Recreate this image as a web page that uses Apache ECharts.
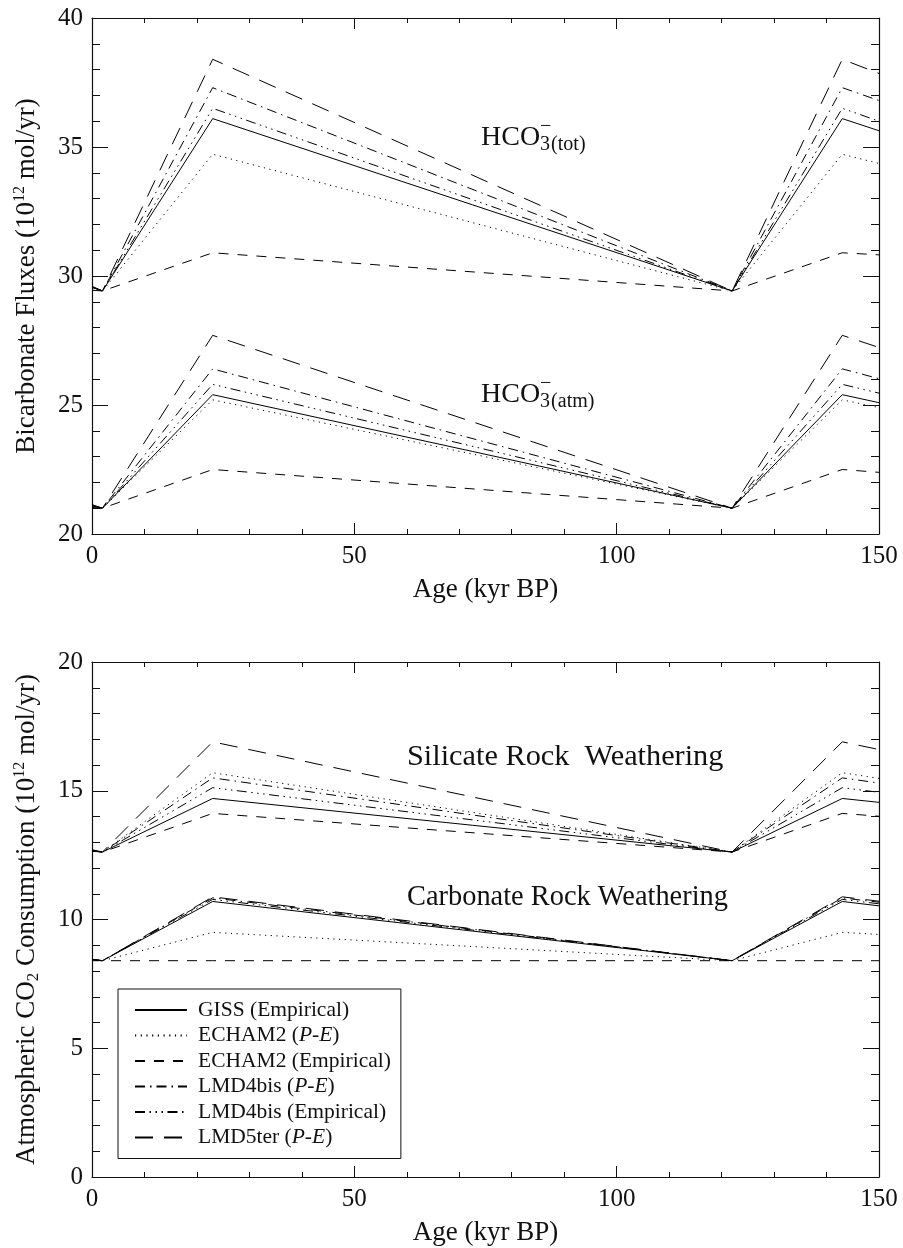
<!DOCTYPE html>
<html>
<head>
<meta charset="utf-8">
<script src="https://cdn.jsdelivr.net/npm/echarts/dist/echarts.min.js"></script>
<style>
  html, body { margin: 0; padding: 0; background: #fff; }
  #chart { width: 903px; height: 1248px; }
</style>
</head>
<body>
<div id="chart"></div>
<script>
// Ages (kyr BP) at which the model fluxes are given
const ages = [0, 2, 23, 122, 143, 150];

// Model names, in legend order
const modelNames = [
  'GISS (Empirical)',
  'ECHAM2 (P-E)',
  'ECHAM2 (Empirical)',
  'LMD4bis (P-E)',
  'LMD4bis (Empirical)',
  'LMD5ter (P-E)'
];

// Total bicarbonate flux, HCO3- (tot), 10^12 mol/yr
const totGISS     = [29.56, 29.42, 36.10, 29.42, 36.10, 35.63];
const totEchamPE  = [29.53, 29.42, 34.72, 29.42, 34.72, 34.36];
const totEchamEmp = [29.45, 29.42, 30.90, 29.42, 30.90, 30.82];
const totLmd4PE   = [29.58, 29.42, 37.30, 29.42, 37.30, 36.80];
const totLmd4Emp  = [29.57, 29.42, 36.50, 29.42, 36.50, 36.00];
const totLmd5PE   = [29.60, 29.42, 38.40, 29.42, 38.40, 37.85];

// Atmospheric part of the bicarbonate flux, HCO3- (atm)
const atmGISS     = [21.09, 21.00, 25.40, 21.00, 25.40, 25.09];
const atmEchamPE  = [21.08, 21.00, 25.20, 21.00, 25.20, 24.90];
const atmEchamEmp = [21.03, 21.00, 22.50, 21.00, 22.50, 22.39];
const atmLmd4PE   = [21.11, 21.00, 26.40, 21.00, 26.40, 26.02];
const atmLmd4Emp  = [21.10, 21.00, 25.80, 21.00, 25.80, 25.46];
const atmLmd5PE   = [21.14, 21.00, 27.70, 21.00, 27.70, 27.23];

// CO2 consumed by silicate rock weathering
const silGISS     = [12.66, 12.62, 14.70, 12.62, 14.70, 14.55];
const silEchamPE  = [12.68, 12.62, 15.70, 12.62, 15.70, 15.48];
const silEchamEmp = [12.65, 12.62, 14.12, 12.62, 14.12, 14.01];
const silLmd4PE   = [12.68, 12.62, 15.50, 12.62, 15.50, 15.30];
const silLmd4Emp  = [12.67, 12.62, 15.12, 12.62, 15.12, 14.94];
const silLmd5PE   = [12.71, 12.62, 16.90, 12.62, 16.90, 16.60];

// CO2 consumed by carbonate rock weathering
const carGISS     = [8.45, 8.40, 10.70, 8.40, 10.70, 10.53];
const carEchamPE  = [8.42, 8.40, 9.50, 8.40, 9.50, 9.42];
const carEchamEmp = [8.40, 8.40, 8.40, 8.40, 8.40, 8.40];
const carLmd4PE   = [8.45, 8.40, 10.84, 8.40, 10.84, 10.67];
const carLmd4Emp  = [8.45, 8.40, 10.78, 8.40, 10.78, 10.61];
const carLmd5PE   = [8.45, 8.40, 10.88, 8.40, 10.88, 10.71];

// Tick values
const xTicks = [0, 50, 100, 150];
const yTicksTop = [20, 25, 30, 35, 40];
const yTicksBottom = [0, 5, 10, 15, 20];

// Dash pattern for each model's curve
const dashes = {
  'GISS (Empirical)': 'solid',
  'ECHAM2 (P-E)': [1.2, 4.5],
  'ECHAM2 (Empirical)': [10, 9],
  'LMD4bis (P-E)': [10, 5, 1.5, 5],
  'LMD4bis (Empirical)': [10, 4.5, 1.5, 4.5, 1.5, 4.5, 1.5, 4.5],
  'LMD5ter (P-E)': [18, 11]
};

const panels = [
  { groups: [
      [totGISS, totEchamPE, totEchamEmp, totLmd4PE, totLmd4Emp, totLmd5PE],
      [atmGISS, atmEchamPE, atmEchamEmp, atmLmd4PE, atmLmd4Emp, atmLmd5PE]
    ], yTicks: yTicksTop },
  { groups: [
      [silGISS, silEchamPE, silEchamEmp, silLmd4PE, silLmd4Emp, silLmd5PE],
      [carGISS, carEchamPE, carEchamEmp, carLmd4PE, carLmd4Emp, carLmd5PE]
    ], yTicks: yTicksBottom }
];

const SERIF = '"Liberation Serif", "Times New Roman", serif';
const INK = '#111';

function pairs(vals) {
  return ages.map((a, i) => [a, vals[i]]);
}

const grids = [
  { left: 92, right: 24, top: 18, height: 516 },
  { left: 92, right: 24, top: 662, height: 515 }
];

const xAxes = [];
const yAxes = [];
const series = [];

const titleRich = {
  sup: { fontFamily: SERIF, fontSize: 16, lineHeight: 16, verticalAlign: 'top', color: INK },
  sub: { fontFamily: SERIF, fontSize: 17, lineHeight: 17, verticalAlign: 'bottom', color: INK }
};

const yNames = [
  'Bicarbonate Fluxes (10{sup|12} mol/yr)',
  'Atmospheric CO{sub|2} Consumption (10{sup|12} mol/yr)'
];

panels.forEach((panel, p) => {
  const yt = panel.yTicks;
  const yMin = yt[0], yMax = yt[yt.length - 1], yStep = yt[1] - yt[0];
  const xMin = xTicks[0], xMax = xTicks[xTicks.length - 1], xStep = xTicks[1] - xTicks[0];
  [false, true].forEach(mirror => {
    xAxes.push({
      type: 'value', gridIndex: p, position: mirror ? 'top' : 'bottom',
      min: xMin, max: xMax, interval: xStep,
      axisLine: { show: true, onZero: false, lineStyle: { color: INK, width: 1.2 } },
      axisTick: { show: true, inside: true, length: 11, lineStyle: { color: INK, width: 1 } },
      minorTick: { show: true, splitNumber: 5, length: 5, lineStyle: { color: INK, width: 1 } },
      splitLine: { show: false },
      axisLabel: { show: !mirror, margin: 10, fontFamily: SERIF, fontSize: 25, color: INK },
      name: mirror ? '' : 'Age (kyr BP)',
      nameLocation: 'middle', nameGap: 42,
      nameTextStyle: { fontFamily: SERIF, fontSize: 27, color: INK }
    });
    yAxes.push({
      type: 'value', gridIndex: p, position: mirror ? 'right' : 'left',
      min: yMin, max: yMax, interval: yStep,
      axisLine: { show: true, onZero: false, lineStyle: { color: INK, width: 1.2 } },
      axisTick: { show: true, inside: true, length: 16, lineStyle: { color: INK, width: 1 } },
      minorTick: { show: true, splitNumber: 5, length: 8, lineStyle: { color: INK, width: 1 } },
      splitLine: { show: false },
      axisLabel: { show: !mirror, margin: 9, fontFamily: SERIF, fontSize: 25, color: INK },
      name: mirror ? '' : yNames[p],
      nameLocation: 'middle', nameRotate: 90, nameGap: 50,
      nameTextStyle: { fontFamily: SERIF, fontSize: 27, lineHeight: 30, color: INK, rich: titleRich }
    });
  });
  panel.groups.forEach(group => {
    group.forEach((vals, m) => {
      const name = modelNames[m];
      series.push({
        type: 'line', name: name,
        xAxisIndex: p * 2, yAxisIndex: p * 2,
        data: pairs(vals),
        symbol: 'none', clip: true,
        lineStyle: { color: '#000', width: 1, type: dashes[name] },
        itemStyle: { color: '#000' },
        emphasis: { disabled: true },
        z: 3
      });
    });
  });
});

// Width of a string in a given font, for laying out chemical formulas
const measureCtx = document.createElement('canvas').getContext('2d');
function textWidth(str, size) {
  measureCtx.font = size + 'px ' + SERIF;
  return measureCtx.measureText(str).width;
}

function txt(str, x, y, size, align) {
  return {
    type: 'text', x: x, y: y, silent: true, z: 10,
    style: {
      text: str, fill: INK,
      font: size + 'px ' + SERIF,
      align: align || 'left', verticalAlign: 'middle'
    }
  };
}

// Bicarbonate label: HCO3 with charge above and subscript qualifier
function hco3(x, baseline, qualifier) {
  const big = 28, small = 20;
  const w = textWidth('HCO', big);
  const w3 = textWidth('3', small);
  return [
    txt('HCO', x, baseline - 0.34 * big, big),
    txt('3', x + w, baseline + 5 - 0.34 * small, small),
    txt('\u2212', x + w, baseline - 13 - 0.34 * small, small),
    txt(qualifier, x + w + w3 + 1, baseline + 5 - 0.34 * small, small)
  ];
}

const SIL = 30.3;
const CARB = 28.4;
const graphics = [].concat(
  hco3(481, 147, '(tot)'),
  hco3(481, 404, '(atm)'),
  [
    txt('Silicate Rock  Weathering', 407, 767 - 0.34 * SIL, SIL),
    txt('Carbonate Rock Weathering', 407, 907 - 0.34 * CARB, CARB)
  ]
);

const legendRich = {
  it: { fontFamily: SERIF, fontSize: 21.5, fontStyle: 'italic', color: INK, lineHeight: 20 }
};

const option = {
  animation: false,
  backgroundColor: '#fff',
  grid: grids,
  xAxis: xAxes,
  yAxis: yAxes,
  series: series,
  legend: {
    data: modelNames,
    orient: 'vertical',
    left: 118, top: 989,
    padding: [10, 10, 10, 16],
    itemWidth: 52, itemHeight: 14, itemGap: 3.5,
    itemStyle: { opacity: 0, borderWidth: 0 },
    borderColor: INK, borderWidth: 1, borderRadius: 0,
    backgroundColor: '#fff',
    selectedMode: false,
    textStyle: { fontFamily: SERIF, fontSize: 21.5, lineHeight: 20, color: INK, padding: [0, 0, 0, 6], rich: legendRich },
    formatter: name => name.replace('(P-E)', '({it|P-E})')
  },
  graphic: graphics
};

const chart = echarts.init(document.getElementById('chart'), null, { renderer: 'canvas' });
chart.setOption(option);
</script>
</body>
</html>
